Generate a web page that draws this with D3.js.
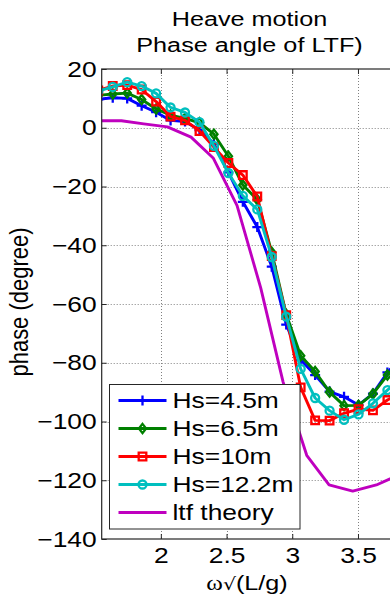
<!DOCTYPE html>
<html>
<head>
<meta charset="utf-8">
<script src="https://cdn.jsdelivr.net/npm/d3@7"></script>
<style>
  html, body { margin: 0; padding: 0; background: #fff; overflow: hidden; }
  svg { display: block; }
</style>
</head>
<body>
<svg id="chart" width="390" height="596"></svg>
<script>
// Non-dimensional frequency of the measured records
const xMeas = [1.524, 1.634, 1.744, 1.854, 1.964, 2.074, 2.184, 2.294, 2.404, 2.514, 2.624,
               2.734, 2.844, 2.954, 3.064, 3.174, 3.284, 3.394, 3.504, 3.614, 3.724, 3.834];

// Measured heave phase angle (degree) per significant wave height
const hs45  = [9.7, 10.2, 10.0, 7.5, 5.3, 2.5, 2.1, -0.8, -5.5, -15.2, -25.2,
               -33.8, -47.3, -67.0, -79.0, -84.2, -89.8, -91.6, -94.4, -90.5, -83.3, -78.0];
const hs65  = [11.0, 11.5, 11.8, 9.6, 6.4, 4.3, 3.2, 1.7, -2.2, -9.7, -19.5,
               -24.5, -42.4, -63.5, -77.6, -83.0, -90.0, -94.6, -94.5, -90.6, -84.2, -79.0];
const hs10  = [12.7, 14.2, 14.5, 13.0, 8.9, 3.8, 2.5, -1.1, -6.6, -12.0, -16.1,
               -23.4, -43.7, -63.8, -88.4, -99.6, -99.7, -97.2, -95.8, -96.2, -92.7, -90.0];
const hs122 = [12.5, 13.9, 15.5, 14.2, 11.7, 6.9, 5.2, 1.9, -6.2, -15.4, -23.2,
               -27.8, -44.0, -64.3, -82.1, -92.0, -96.3, -99.4, -97.6, -93.8, -89.3, -85.0];

// Linear transfer function (theory)
const xTheory   = [1.52, 1.70, 1.87, 2.05, 2.23, 2.40, 2.58, 2.76, 2.93, 3.11, 3.28, 3.46, 3.64, 3.82];
const ltfTheory = [2.4, 2.4, 1.3, 0.3, -3.2, -10.4, -26.5, -54.5, -86.5, -111.5, -121.6, -123.7, -121.6, -118.0];

const seriesNames = ["Hs=4.5m", "Hs=6.5m", "Hs=10m", "Hs=12.2m", "ltf theory"];
const xTicks = [2, 2.5, 3, 3.5];
const yTicks = [20, 0, -20, -40, -60, -80, -100, -120, -140];
const titleLines = ["Heave motion", "Phase angle of LTF)"];
const yLabel = "phase (degree)";

// ---- layout ----
const SX = 1.2;                       // horizontal glyph stretch of the figure
const FONT = "'Liberation Sans', Arial, Helvetica, sans-serif";
const plot = { left: 101.7, top: 69, right: 397.4, bottom: 539 };

const svg = d3.select("#chart");
const x = d3.scaleLinear().domain([1.55, 3.8]).range([plot.left, plot.right]);
const y = d3.scaleLinear().domain([-140, 20]).range([plot.bottom, plot.top]);

svg.append("rect").attr("width", 390).attr("height", 596).attr("fill", "#fff");

svg.append("defs").append("clipPath").attr("id", "plotClip")
  .append("rect")
  .attr("x", plot.left).attr("y", plot.top)
  .attr("width", plot.right - plot.left).attr("height", plot.bottom - plot.top);

// ---- dotted grid ----
const grid = svg.append("g")
  .attr("stroke", "#808080").attr("stroke-width", 1).attr("stroke-dasharray", "1,2");
grid.selectAll("line.gx").data(xTicks).join("line").attr("class", "gx")
  .attr("x1", d => Math.round(x(d)) + 0.5).attr("x2", d => Math.round(x(d)) + 0.5)
  .attr("y1", plot.top).attr("y2", plot.bottom);
grid.selectAll("line.gy").data(yTicks.filter(d => d !== 20 && d !== -140)).join("line").attr("class", "gy")
  .attr("y1", d => Math.round(y(d)) + 0.5).attr("y2", d => Math.round(y(d)) + 0.5)
  .attr("x1", plot.left).attr("x2", plot.right);

// ---- series ----
const sym = {
  plus: "M-5,0H5M0,-5V5",
  diamond: "M0,-4.6L3.6,0L0,4.6L-3.6,0Z",
  square: "M-3.8,-3.8H3.8V3.8H-3.8Z",
  circle: d3.symbol().type(d3.symbolCircle).size(Math.PI * 4 * 4)()
};
const series = [
  { name: seriesNames[0], xs: xMeas,   ys: hs45,      color: "#0000ff", marker: sym.plus },
  { name: seriesNames[1], xs: xMeas,   ys: hs65,      color: "#008000", marker: sym.diamond },
  { name: seriesNames[2], xs: xMeas,   ys: hs10,      color: "#ff0000", marker: sym.square },
  { name: seriesNames[3], xs: xMeas,   ys: hs122,     color: "#00bfbf", marker: sym.circle },
  { name: seriesNames[4], xs: xTheory, ys: ltfTheory, color: "#bf00bf", marker: null }
];

const line = d3.line().x(d => x(d[0])).y(d => y(d[1]));
const dataLayer = svg.append("g").attr("clip-path", "url(#plotClip)");

series.forEach(s => {
  const pts = s.xs.map((v, i) => [v, s.ys[i]]);
  const g = dataLayer.append("g");
  g.append("path").datum(pts)
    .attr("d", line).attr("fill", "none")
    .attr("stroke", s.color).attr("stroke-width", 2.9)
    .attr("stroke-linejoin", "round").attr("stroke-linecap", "round");
  if (s.marker) {
    g.selectAll("path.m").data(pts).join("path").attr("class", "m")
      .attr("d", s.marker)
      .attr("transform", d => `translate(${x(d[0])},${y(d[1])})`)
      .attr("fill", "none").attr("stroke", s.color).attr("stroke-width", 2.3);
  }
});

// ---- axes ----
const axisColor = "#262626";
function styleAxis(g) {
  g.select(".domain").remove();
  g.selectAll(".tick line").attr("stroke", axisColor).attr("stroke-width", 1);
  g.selectAll(".tick text").attr("fill", "#000").attr("font-size", 22).attr("font-family", FONT);
}

const xAxis = svg.append("g").attr("transform", `translate(0,${plot.bottom})`)
  .call(d3.axisBottom(x).tickValues(xTicks).tickFormat(d3.format("")).tickSizeInner(-5).tickSizeOuter(0).tickPadding(8))
  .call(styleAxis);
xAxis.selectAll(".tick text").attr("transform", `scale(${SX},1)`);

const yAxis = svg.append("g").attr("transform", `translate(${plot.left},0)`)
  .call(d3.axisLeft(y).tickValues(yTicks).tickFormat(d3.format("")).tickSizeInner(-5).tickSizeOuter(0).tickPadding(5))
  .call(styleAxis);
yAxis.selectAll(".tick text").attr("x", -5 / SX).attr("transform", `scale(${SX},1)`);

svg.append("g").attr("transform", `translate(0,${plot.top})`)
  .call(d3.axisTop(x).tickValues(xTicks).tickFormat("").tickSizeInner(-5).tickSizeOuter(0))
  .call(styleAxis);
svg.append("g").attr("transform", `translate(${plot.right},0)`)
  .call(d3.axisRight(y).tickValues(yTicks).tickFormat("").tickSizeInner(-5).tickSizeOuter(0))
  .call(styleAxis);

svg.append("rect")
  .attr("x", plot.left).attr("y", plot.top)
  .attr("width", plot.right - plot.left).attr("height", plot.bottom - plot.top)
  .attr("fill", "none").attr("stroke", axisColor).attr("stroke-width", 1.2);

// ---- legend ----
const lg = svg.append("g").attr("transform", "translate(109.5,384.5)");
lg.append("rect").attr("width", 190.5).attr("height", 144.5)
  .attr("fill", "#fff").attr("stroke", axisColor).attr("stroke-width", 1);
series.forEach((s, i) => {
  const cy = 16 + i * 28;
  const row = lg.append("g").attr("transform", `translate(0,${cy})`);
  row.append("line").attr("x1", 9).attr("x2", 57).attr("y1", 0).attr("y2", 0)
    .attr("stroke", s.color).attr("stroke-width", 2.9);
  if (s.marker) {
    row.append("path").attr("d", s.marker).attr("transform", "translate(33,0)")
      .attr("fill", "none").attr("stroke", s.color).attr("stroke-width", 2.3);
  }
  row.append("text").attr("transform", `translate(63,0) scale(${SX},1)`)
    .attr("dy", "0.36em").attr("font-size", 22).attr("font-family", FONT)
    .attr("fill", "#000").text(s.name);
});

// ---- titles and labels ----
const cx = 249.5;
svg.selectAll("text.title").data(titleLines).join("text").attr("class", "title")
  .attr("transform", (d, i) => `translate(${cx},${i === 0 ? 26 : 51.5}) scale(${SX},1)`)
  .attr("text-anchor", "middle").attr("font-size", 21).attr("font-family", FONT)
  .attr("fill", "#000").text(d => d);

svg.append("text")
  .attr("transform", `translate(28,302) scale(${SX},1) rotate(-90)`)
  .attr("text-anchor", "middle").attr("font-size", 22).attr("font-family", FONT)
  .attr("fill", "#000").text(yLabel);

const xl = svg.append("text")
  .attr("transform", `translate(247,590) scale(${SX},1)`)
  .attr("text-anchor", "middle").attr("font-size", 21).attr("fill", "#000");
xl.append("tspan").attr("font-family", "'Liberation Serif', 'DejaVu Serif', serif").text("ω");
xl.append("tspan").attr("font-family", "'DejaVu Sans', sans-serif").attr("font-size", 17).text("√");
xl.append("tspan").attr("font-family", FONT).text("(L/g)");
</script>
</body>
</html>
